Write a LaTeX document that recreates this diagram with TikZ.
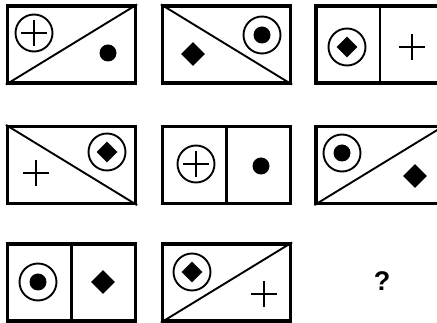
\documentclass[tikz,border=0pt]{standalone}
\usepackage{fontspec}
\setmainfont{Liberation Sans}
\usepackage{tikz}
\usetikzlibrary{shapes.geometric}
\tikzset{
  frame/.style={draw,line width=3.2pt,minimum width=128pt,minimum height=77pt,inner sep=0pt},
  stroke/.style={line width=1.9pt},
  ring/.style={circle,draw,line width=1.9pt,minimum size=37pt,inner sep=0pt},
  blob/.style={circle,fill,minimum size=17pt,inner sep=0pt},
  gem/.style={diamond,fill,minimum size=24pt,inner sep=0pt},
  smallgem/.style={gem,minimum size=21pt}
}
\newcommand{\plusat}[2]{\coordinate (#1) at (#2);
  \draw[stroke] (#1) ++(-13,0) -- ++(26,0) (#1) ++(0,-13) -- ++(0,26);}
\newcommand{\ringplus}[2]{\node[ring] (#1) at (#2) {};
  \draw[stroke] (#1.center) ++(-13,0) -- ++(26,0) (#1.center) ++(0,-13) -- ++(0,26);}
\newcommand{\ringdot}[2]{\node[ring] (#1) at (#2) {};
  \node[blob] (#1c) at (#1.center) {};}
\newcommand{\ringgem}[2]{\node[ring] (#1) at (#2) {};
  \node[smallgem] (#1c) at (#1.center) {};}

\begin{document}
\begin{tikzpicture}[x=1pt,y=-1pt]
  \useasboundingbox (0,0) rectangle (437,323);

  % row 1
  \node[frame] (b1) at (71.5,44.5) {};
  \draw[stroke] (b1.south west) -- (b1.north east);
  \ringplus{p1}{34,33}
  \node[blob] (d1) at (108,53) {};

  \node[frame] (b2) at (226.5,44.5) {};
  \draw[stroke] (b2.north west) -- (b2.south east);
  \ringdot{r2}{262,35}
  \node[gem] (g2) at (193,54) {};

  \node[frame] (b3) at (380,44.5) {};
  \draw[line width=2.4pt] (b3.north) -- (b3.south);
  \ringgem{r3}{347,47}
  \plusat{p3}{412,47}

  % row 2
  \node[frame] (b4) at (71.5,165) {};
  \draw[stroke] (b4.north west) -- (b4.south east);
  \plusat{p4}{36,173}
  \ringgem{r4}{107,152}

  \node[frame] (b5) at (226.5,165) {};
  \draw[line width=2.4pt] (b5.north) -- (b5.south);
  \ringplus{p5}{196,164}
  \node[blob] (d5) at (261,166) {};

  \node[frame] (b6) at (380,165) {};
  \draw[stroke] (b6.south west) -- (b6.north east);
  \ringdot{r6}{342,153}
  \node[gem] (g6) at (415,176) {};

  % row 3
  \node[frame] (b7) at (71.5,282.5) {};
  \draw[line width=2.4pt] (b7.north) -- (b7.south);
  \ringdot{r7}{38,282}
  \node[gem] (g7) at (103,282) {};

  \node[frame] (b8) at (226.5,282.5) {};
  \draw[stroke] (b8.south west) -- (b8.north east);
  \ringgem{r8}{192,272}
  \plusat{p8}{264,294}

  \node[font=\fontsize{27}{27}\selectfont\bfseries] (ask) at (382,281) {?};
\end{tikzpicture}
\end{document}
